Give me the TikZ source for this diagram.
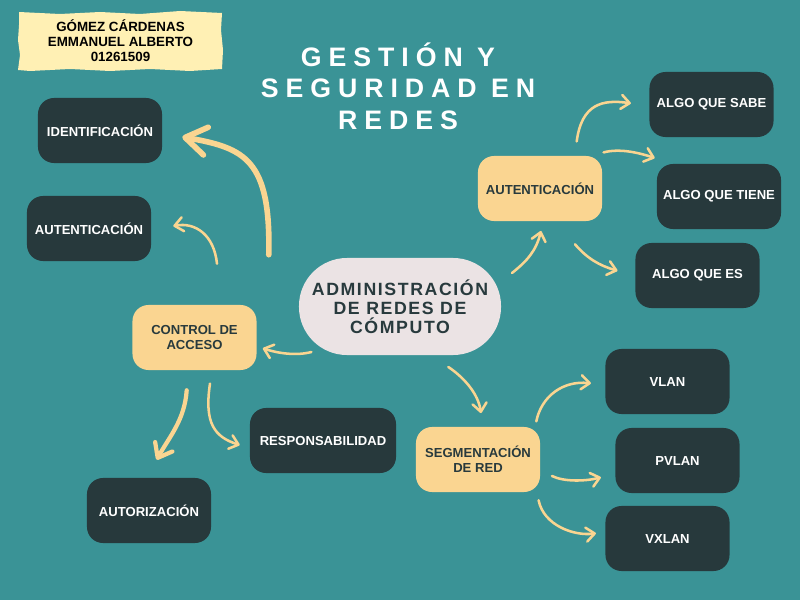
\documentclass[tikz,border=0pt]{standalone}
\usepackage{fontspec}
\setmainfont{Liberation Sans}
\newfontfamily\titlefont[LetterSpace=26]{Liberation Sans}
\newfontfamily\hubfont[LetterSpace=9]{Liberation Sans}
\usepackage{xcolor}
\usepackage{tikz}
\usetikzlibrary{arrows.meta}

\definecolor{bgteal}{RGB}{58,147,150}
\definecolor{darkbox}{RGB}{39,57,60}
\definecolor{sand}{RGB}{250,213,145}
\definecolor{pale}{RGB}{235,227,228}
\definecolor{note}{RGB}{255,240,180}
\definecolor{ink}{RGB}{40,58,61}

\tikzset{
    darknode/.style={fill=darkbox, text=white, rounded corners=0.4cm, minimum width=3.1cm,
        minimum height=1.625cm, align=center, font=\fontsize{9.3}{10.6}\selectfont\bfseries},
    sandnode/.style={darknode, fill=sand, text=ink},
    link/.style={draw=sand, line width=1.8pt, line cap=round,
        -{Straight Barb[round, length=6pt, width=10pt]}},
    midlink/.style={link, line width=3pt, -{Straight Barb[round, length=9pt, width=14pt]}},
    biglink/.style={link, line width=4pt, -{Straight Barb[round, length=15pt, width=20pt]}},
}

\begin{document}
\begin{tikzpicture}[x=0.025cm, y=0.025cm]
    % Background
    \fill[bgteal] (0,0) rectangle (800,600);
    \useasboundingbox (0,0) rectangle (800,600);

    % Name tag (torn paper)
    \fill[note] (19,588) -- (60,586) -- (100,588) -- (140,586) -- (180,589) -- (222,587)
        -- (221,570) -- (223,550) -- (222,531) -- (190,529) -- (150,531) -- (110,529)
        -- (70,531) -- (30,529) -- (18,530) -- (20,545) -- (18,560) -- (19,575) -- cycle;
    \node[align=center, font=\fontsize{9.5}{10.6}\selectfont\bfseries] (tag) at (120.5,559)
        {GÓMEZ CÁRDENAS\\EMMANUEL ALBERTO\\01261509};

    % Title
    \node[text=white, align=center, font=\titlefont\fontsize{19}{22.4}\selectfont\bfseries] (title)
        at (398,514) {GESTIÓN Y\\SEGURIDAD EN\\REDES};

    % Central topic
    \node[fill=pale, text=ink, rounded corners=1.2cm, minimum width=5.05cm, minimum height=2.425cm,
        align=center, font=\hubfont\fontsize{12.6}{13.5}\selectfont\bfseries] (hub)
        at (400,293.5) {ADMINISTRACIÓN\\DE REDES DE\\CÓMPUTO};

    % Left branch
    \node[sandnode] (ctrl) at (194.5,262.5) {CONTROL DE\\ACCESO};
    \node[darknode] (ident) at (100,469.5) {IDENTIFICACIÓN};
    \node[darknode] (autl) at (89,371.5) {AUTENTICACIÓN};
    \node[darknode, minimum width=3.65cm] (resp) at (323,159.5) {RESPONSABILIDAD};
    \node[darknode] (autz) at (149,89.5) {AUTORIZACIÓN};

    % Right upper branch
    \node[sandnode] (autr) at (540,411.5) {AUTENTICACIÓN};
    \node[darknode] (sabe) at (711.5,495.5) {ALGO QUE SABE};
    \node[darknode] (tiene) at (719,403.5) {ALGO QUE TIENE};
    \node[darknode] (es) at (697.5,324.5) {ALGO QUE ES};

    % Right lower branch
    \node[sandnode] (seg) at (478,140.5) {SEGMENTACIÓN\\DE RED};
    \node[darknode] (vlan) at (667.5,218.5) {VLAN};
    \node[darknode] (pvlan) at (677.5,139.5) {PVLAN};
    \node[darknode] (vxlan) at (667.5,61.5) {VXLAN};

    % Arrows
    \draw[biglink] ([shift={(12,50)}]ctrl.north east) .. controls +(2,95) and +(63,-11)
        .. ([shift={(20,-6.5)}]ident.east);
    \draw[link] ([shift={(22.5,41)}]ctrl.north) .. controls +(-3,29) and +(22,4)
        .. ([shift={(22,2.5)}]autl.east);
    \draw[link] ([shift={(12.7,3.3)}]hub.south west) .. controls +(-15,-4) and +(15,-5)
        .. ([shift={(6,-10.8)}]ctrl.east);
    \draw[midlink] ([shift={(-7.8,-20)}]ctrl.south) .. controls +(-2,-30) and +(12,22)
        .. ([shift={(7.7,18)}]autz.north);
    \draw[link] ([shift={(15.5,-13.3)}]ctrl.south) .. controls +(-6,-40) and +(-25,8)
        .. ([shift={(-10,-4.5)}]resp.west);

    \draw[link] ([shift={(10.7,-15.3)}]hub.north east) .. controls +(15,12) and +(-5,-20)
        .. ([shift={(1,-9.7)}]autr.south);
    \draw[link] ([shift={(36.7,14.3)}]autr.north) .. controls +(5,38) and +(-28,4)
        .. ([shift={(-18.3,1.2)}]sabe.west);
    \draw[link] ([shift={(1.3,3.3)}]autr.north east) .. controls +(15,4) and +(-18,6)
        .. ([shift={(-2,5.7)}]tiene.north west);
    \draw[link] ([shift={(35,-23)}]autr.south) .. controls +(12,-14) and +(-18,5)
        .. ([shift={(-17.7,4.8)}]es.west);

    \draw[link] ([shift={(48.3,-11.7)}]hub.south) .. controls +(15,-10) and +(-3,20)
        .. ([shift={(3,13.7)}]seg.north);
    \draw[link] ([shift={(-4,5.3)}]seg.north east) .. controls +(5,25) and +(-28,3)
        .. ([shift={(-14.3,-1.8)}]vlan.west);
    \draw[link] ([shift={(11.7,-16.5)}]seg.east) .. controls +(12,-6) and +(-15,-4)
        .. ([shift={(-14.3,-16.8)}]pvlan.west);
    \draw[link] ([shift={(-1.7,-8)}]seg.south east) .. controls +(5,-25) and +(-22,-3)
        .. ([shift={(-9.3,5.2)}]vxlan.west);
\end{tikzpicture}
\end{document}
